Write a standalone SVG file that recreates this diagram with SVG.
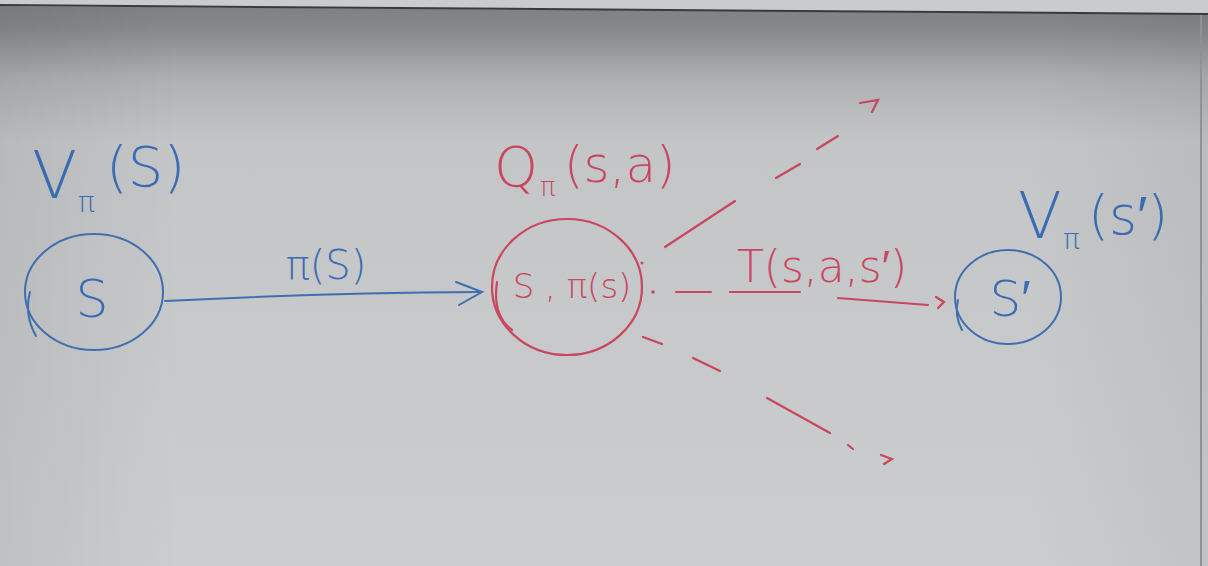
<svg xmlns="http://www.w3.org/2000/svg" width="1208" height="566" viewBox="0 0 1208 566">
<defs>
<linearGradient id="board" x1="0" y1="0" x2="0" y2="1">
<stop offset="0" stop-color="#7d7e80"/>
<stop offset="0.05" stop-color="#86888a"/>
<stop offset="0.14" stop-color="#aeb0b1"/>
<stop offset="0.25" stop-color="#c3c5c6"/>
<stop offset="1" stop-color="#cbcdce"/>
</linearGradient>
<linearGradient id="side" x1="0" y1="0" x2="1" y2="0">
<stop offset="0" stop-color="#000" stop-opacity="0.06"/>
<stop offset="0.15" stop-color="#000" stop-opacity="0"/>
<stop offset="0.85" stop-color="#000" stop-opacity="0"/>
<stop offset="1" stop-color="#000" stop-opacity="0.05"/>
</linearGradient>
</defs>
<style>
.blue{fill:none;stroke:#3f6fb0;stroke-width:2;stroke-linecap:round}
.red{fill:none;stroke:#c9465e;stroke-width:2.2;stroke-linecap:round}
.bt{fill:#3a6cb4;font-family:"DejaVu Sans",sans-serif;font-weight:300}
.rt{fill:#c9465e;font-family:"DejaVu Sans",sans-serif;font-weight:300}
</style>
<rect x="0" y="0" width="1208" height="566" fill="url(#board)"/>
<rect x="0" y="0" width="1208" height="566" fill="url(#side)"/>
<polygon points="0,0 1208,0 1208,14 0,6" fill="#c9cbcc"/>
<line x1="0" y1="5" x2="1208" y2="14" stroke="#3a3a3c" stroke-width="2"/>
<line x1="1201" y1="15" x2="1201" y2="566" stroke="#8f9193" stroke-width="2"/>

<g id="node-s">
<ellipse cx="94" cy="292" rx="69" ry="58" class="blue" stroke="#5a7aa8"/>
<path d="M30 292 Q24 315 36 336" class="blue"/>
<text x="92" y="317" class="bt" font-size="52" text-anchor="middle">S</text>
</g>
<g id="label-vs">
<text x="32" y="198" class="bt" font-size="66">V</text>
<text x="78" y="212" class="bt" font-size="28">π</text>
<text x="106" y="186" class="bt" font-size="56">(S)</text>
</g>

<g id="node-sa">
<ellipse cx="567" cy="287" rx="75" ry="68" class="red" stroke-width="1.8"/>
<path d="M497 282 Q492 315 512 330" class="red"/>
<text x="572" y="298" class="rt" font-size="34" text-anchor="middle">S , π(s)</text>
</g>
<g id="label-q">
<text x="494" y="186" class="rt" font-size="56">Q</text>
<text x="540" y="196" class="rt" font-size="26">π</text>
<text x="564" y="182" class="rt" font-size="50">(s,a)</text>
</g>

<g id="node-s2">
<ellipse cx="1008" cy="297" rx="53" ry="47" class="blue" stroke-width="2.2"/>
<path d="M958 300 Q954 315 962 330" class="blue"/>
<text x="1010" y="316" class="bt" font-size="50" text-anchor="middle">S′</text>
</g>
<g id="label-vs2">
<text x="1018" y="238" class="bt" font-size="64">V</text>
<text x="1063" y="249" class="bt" font-size="28">π</text>
<text x="1088" y="234" class="bt" font-size="54">(s′)</text>
</g>

<g id="connectors">
<path d="M165 301 Q320 293 480 292" class="blue" stroke-width="1.8"/>
<path d="M456 282 L482 292 L459 305" class="blue" stroke-width="2.2"/>
<text x="326" y="279" class="bt" font-size="40" text-anchor="middle">π(S)</text>

<path d="M665 247 L735 201 M776 178 L800 164 M817 149 L838 136" class="red"/>
<path d="M860 103 L878 100 L872 112" class="red" stroke-width="2"/>
<circle cx="642" cy="263" r="1.5" fill="#c9465e"/>

<circle cx="653" cy="292" r="1.8" fill="#c9465e"/>
<path d="M676 292 L711 292 M730 292 L800 292 M838 298 L928 305" class="red"/>
<path d="M936 297 L944 302 L938 308" class="red" stroke-width="2"/>
<text x="822" y="282" class="rt" font-size="44" text-anchor="middle">T(s,a,s′)</text>

<path d="M643 337 L662 344 M693 358 L720 371 M767 398 L830 433 M848 445 L853 449" class="red"/>
<path d="M881 455 L892 459 L884 464" class="red" stroke-width="2"/>
</g>
</svg>
